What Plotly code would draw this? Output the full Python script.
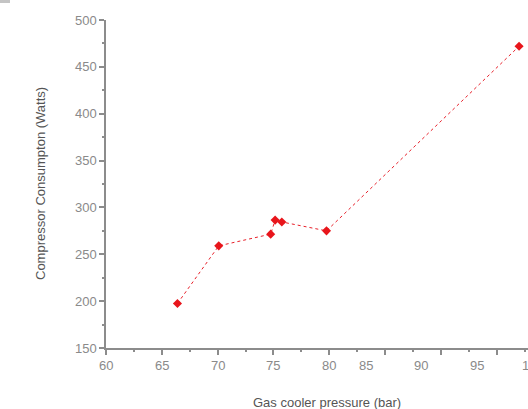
import plotly.graph_objects as go

# Data
pressure_bar = [66.4, 70.1, 74.75, 75.15, 75.75, 79.75, 97.0]
consumption_w = [197.5, 259, 271.5, 286.5, 284.5, 275, 472]

# X tick labels (as printed in the reference) and where they sit along the axis
x_ticklabels = ["60", "65", "70", "75", "80", "85", "90", "95", "100"]
x_ticklabel_at = [60, 65, 70, 75, 80, 83.25, 88.25, 93.25, 98.25]
x_tickmarks = [60, 65, 70, 75, 80, 85, 90, 95]

x_range = [60, 97.8]
y_range = [150, 500]

axis_col = "#8c8c8c"
label_col = "#8a8a8a"
title_col = "#555555"
font_family = "Liberation Sans, Arial, sans-serif"

fig = go.Figure()
fig.add_trace(go.Scatter(
    x=pressure_bar, y=consumption_w, mode="lines+markers",
    line=dict(color="#e8202a", width=1, dash="dot"),
    marker=dict(symbol="diamond", size=7, color="#e8151b"),
    showlegend=False,
))

annotations = []
span = x_range[1] - x_range[0]
for v, t in zip(x_ticklabel_at, x_ticklabels):
    annotations.append(dict(
        x=(v - x_range[0]) / span, xref="paper", y=0, yref="paper",
        yanchor="middle", xanchor="center", yshift=-17, text=t, showarrow=False,
        font=dict(size=13, color=label_col, family=font_family),
    ))
annotations.append(dict(
    x=(327 - 106) / 422, xref="paper", y=0, yref="paper", yanchor="middle",
    yshift=-54, text="Gas cooler pressure (bar)", showarrow=False,
    font=dict(size=13, color=title_col, family=font_family),
))
annotations.append(dict(
    x=0, xref="paper", xanchor="center", xshift=-66, y=0.5, yref="paper",
    text="Compressor Consumpton (Watts)", textangle=-90, showarrow=False,
    font=dict(size=13, color=title_col, family=font_family),
))

fig.update_layout(
    width=528, height=409,
    margin=dict(l=106, r=0, t=20, b=61),
    paper_bgcolor="white", plot_bgcolor="white",
    font=dict(family=font_family, size=13, color=label_col),
    annotations=annotations,
    shapes=[dict(type="rect", xref="paper", yref="paper",
                 x0=-106 / 422, x1=(10 - 106) / 422,
                 y0=(348 - 3) / 328, y1=348 / 328,
                 fillcolor="#c4c4c4", line=dict(width=0))],
    xaxis=dict(
        range=x_range, tickvals=x_tickmarks, showticklabels=False,
        ticks="outside", ticklen=5, tickwidth=2, tickcolor=axis_col,
        minor=dict(dtick=2.5, tick0=62.5, ticks="outside", ticklen=2, tickwidth=2, tickcolor=axis_col),
        showline=True, linecolor=axis_col, linewidth=1.5,
        showgrid=False, zeroline=False,
    ),
    yaxis=dict(
        range=y_range, tickvals=[150, 200, 250, 300, 350, 400, 450, 500],
        ticks="outside", ticklen=5, tickwidth=2, tickcolor=axis_col,
        minor=dict(dtick=25, tick0=175, ticks="outside", ticklen=2, tickwidth=2, tickcolor=axis_col),
        tickfont=dict(size=13, color=label_col),
        showline=True, linecolor=axis_col, linewidth=1.5,
        showgrid=False, zeroline=False,
    ),
)

fig.write_html("out.html")
